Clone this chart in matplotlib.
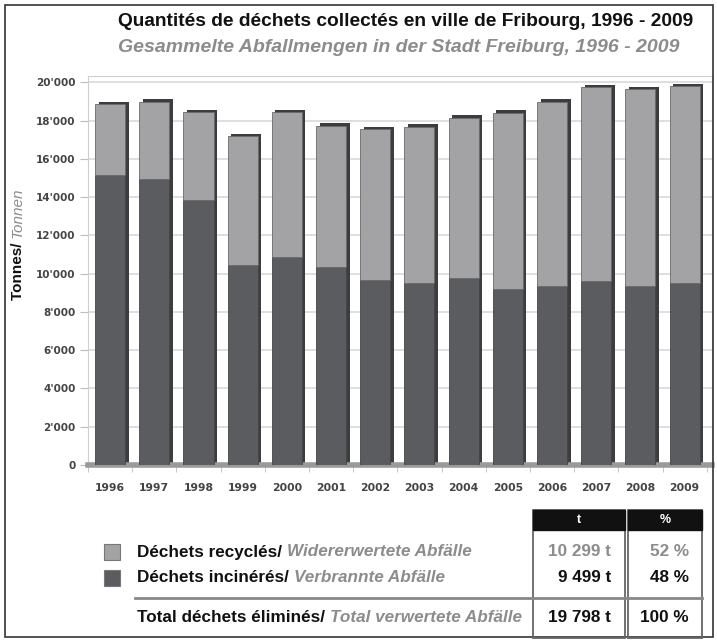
import matplotlib
matplotlib.use("Agg")
import matplotlib.pyplot as plt
from matplotlib.patches import Rectangle
from matplotlib.ticker import FuncFormatter, MultipleLocator
import numpy as np

plt.rcParams['font.family'] = ['Liberation Sans', 'DejaVu Sans']

years = ['1996', '1997', '1998', '1999', '2000', '2001', '2002',
         '2003', '2004', '2005', '2006', '2007', '2008', '2009']
incinerated = [15170, 14960, 13830, 10470, 10860, 10350, 9650,
               9510, 9770, 9220, 9340, 9620, 9360, 9499]
recycled = [3680, 4020, 4600, 6720, 7570, 7380, 7900,
            8170, 8380, 9190, 9640, 10110, 10280, 10299]

table_labels_fr = ['Déchets recyclés/ ', 'Déchets incinérés/ ', 'Total déchets éliminés/ ']
table_labels_de = ['Widererwertete Abfälle', 'Verbrannte Abfälle', 'Total verwertete Abfälle']
table_t = ['10 299 t', '9 499 t', '19 798 t']
table_pct = ['52 %', '48 %', '100 %']

light = '#a3a3a5'
dark = '#5b5c60'
side = '#3d3d40'
gray_txt = '#8c8c8e'

W, H = 717, 640
fig = plt.figure(figsize=(W / 100, H / 100), dpi=100)


def fx(px):
    return px / W


def fy(py):
    return 1 - py / H


# outer frame
fig.patches.append(Rectangle((fx(5), fy(637)), fx(708), 632 / H, transform=fig.transFigure,
                             fill=False, edgecolor='#333333', lw=1.2))

# titles
fig.text(fx(118), fy(22), 'Quantités de déchets collectés en ville de Fribourg, 1996 - 2009',
         fontsize=13.8, fontweight='bold', color='#111111', va='center', ha='left')
fig.text(fx(118), fy(47), 'Gesammelte Abfallmengen in der Stadt Freiburg, 1996 - 2009',
         fontsize=14, fontweight='bold', style='italic', color=gray_txt, va='center', ha='left')

# chart
ax = fig.add_axes([fx(88), fy(465), fx(712) - fx(88), (465 - 76) / H])
x = np.arange(len(years))
rec = np.array(recycled)
inc = np.array(incinerated)

# fake 3d: dark side / top face behind each bar
ax.bar(x + 0.08, inc + rec + 130, width=0.68, color=side, zorder=2)
ax.bar(x, inc, width=0.68, color=dark, edgecolor='#444446', lw=0.6, zorder=3)
ax.bar(x, rec, bottom=inc, width=0.68, color=light, edgecolor='#6a6a6c', lw=0.6, zorder=3)

ax.set_xlim(-0.5, 13.62)
ax.set_ylim(0, 20330)
ax.yaxis.set_major_locator(MultipleLocator(2000))
ax.yaxis.set_major_formatter(FuncFormatter(lambda v, p: f'{int(v):,}'.replace(',', "'")))
ax.grid(axis='y', color='#d9d9d9', lw=1.2)
ax.set_axisbelow(True)
ax.set_xticks(x)
ax.set_xticklabels(years, family='DejaVu Sans', fontweight='bold')
ax.set_xticks(np.arange(len(years) + 1) - 0.5, minor=True)
ax.tick_params(axis='x', which='major', length=0, pad=13, labelsize=7.8, labelcolor='#444444')
ax.tick_params(axis='x', which='minor', length=5, color='#bbbbbb')
ax.tick_params(axis='y', length=6, color='#bbbbbb', labelsize=7.5, labelcolor='#444444', pad=3)
for lab in ax.get_yticklabels():
    lab.set_family('DejaVu Sans')
    lab.set_fontweight('bold')
for s in ['top', 'right', 'left']:
    ax.spines[s].set_color('#cfcfcf')
ax.spines['bottom'].set_color('#9a9a9a')
ax.spines['bottom'].set_linewidth(4)

# y label, two parts
t1 = fig.text(fx(18), fy(300), 'Tonnes/ ', rotation=90, fontsize=11, fontweight='bold',
              color='#111111', ha='center', va='bottom')
ax.annotate('Tonnen', xy=(0, 1), xycoords=t1, rotation=90, fontsize=11, style='italic',
            color=gray_txt, ha='left', va='bottom', annotation_clip=False)

# legend / table
rows_y = [552, 578, 617]
fs = 12.3
swatch_cols = [light, dark]
for i, c in enumerate(swatch_cols):
    fig.patches.append(Rectangle((fx(104), fy(rows_y[i] + 8)), 16 / W, 16 / H,
                                 transform=fig.transFigure, facecolor=c, edgecolor='#777777', lw=0.8))
for i in range(3):
    t = fig.text(fx(137), fy(rows_y[i]), table_labels_fr[i], fontsize=fs, fontweight='bold',
                 color='#111111', ha='left', va='center')
    ax.annotate(table_labels_de[i], xy=(1, 0), xycoords=t, fontsize=fs, fontweight='bold',
                style='italic', color=gray_txt, ha='left', va='bottom', annotation_clip=False)
    col = gray_txt if i == 0 else '#111111'
    fig.text(fx(611), fy(rows_y[i]), table_t[i], fontsize=fs, fontweight='bold', color=col,
             ha='right', va='center')
    fig.text(fx(689), fy(rows_y[i]), table_pct[i], fontsize=fs, fontweight='bold', color=col,
             ha='right', va='center')

# table boxes
for x0, x1 in [(533, 625), (628, 702)]:
    fig.patches.append(Rectangle((fx(x0), fy(638)), (x1 - x0) / W, (638 - 510) / H,
                                 transform=fig.transFigure, fill=False, edgecolor='#666666', lw=1.3))
    fig.patches.append(Rectangle((fx(x0), fy(530)), (x1 - x0) / W, 20 / H,
                                 transform=fig.transFigure, facecolor='#111111', edgecolor='#111111'))
fig.text(fx(579), fy(520), 't', fontsize=9, fontweight='bold', color='white', ha='center', va='center')
fig.text(fx(665), fy(520), '%', fontsize=9, fontweight='bold', color='white', ha='center', va='center')
fig.lines.append(plt.Line2D([fx(135), fx(702)], [fy(598), fy(598)], transform=fig.transFigure,
                            color='#888888', lw=2))

fig.savefig('out.png', dpi=100)
